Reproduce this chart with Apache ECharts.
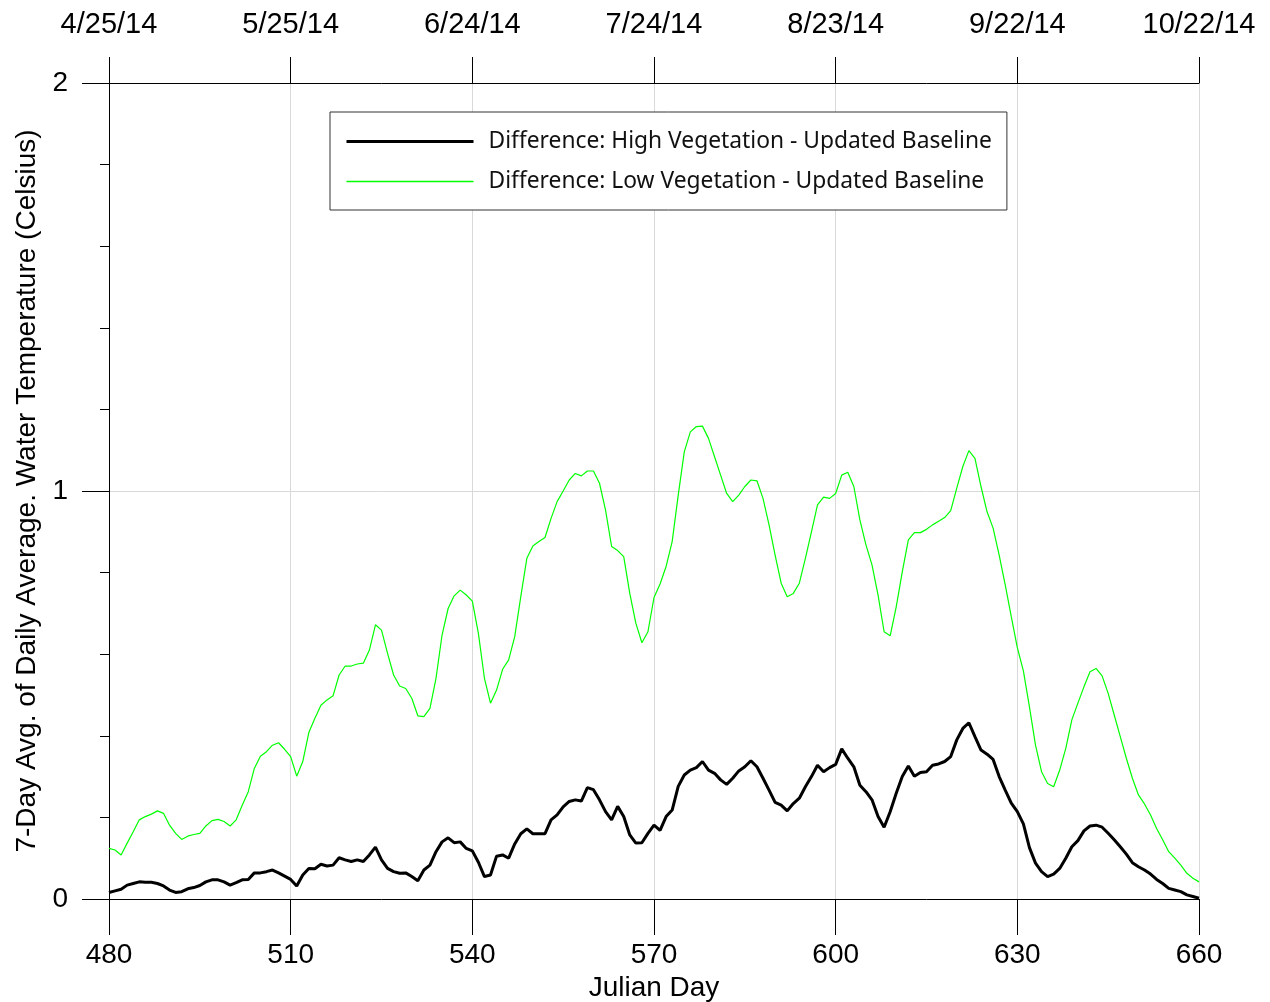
<!DOCTYPE html>
<html>
<head>
<meta charset="utf-8">
<script src="https://cdn.jsdelivr.net/npm/echarts@6/dist/echarts.min.js"></script>
<style>
  html, body { margin: 0; padding: 0; background: #fff; }
  #chart { width: 1270px; height: 1002px; }
</style>
</head>
<body>
<div id="chart"></div>
<script>
// Julian day of first value (one value per day)
const firstDay = 480;
const dayTicks = [480, 510, 540, 570, 600, 630, 660];
const dateLabels = ['4/25/14', '5/25/14', '6/24/14', '7/24/14', '8/23/14', '9/22/14', '10/22/14'];
const seriesNames = ['Difference: High Vegetation - Updated Baseline', 'Difference: Low Vegetation - Updated Baseline'];

const highVeg = [
  0.016, 0.020, 0.024, 0.034, 0.038, 0.042, 0.041, 0.041, 0.038, 0.032,
  0.022, 0.016, 0.018, 0.025, 0.028, 0.033, 0.042, 0.047, 0.047, 0.042,
  0.034, 0.040, 0.047, 0.048, 0.064, 0.064, 0.067, 0.071, 0.064, 0.056,
  0.048, 0.032, 0.059, 0.075, 0.074, 0.085, 0.081, 0.083, 0.101, 0.096,
  0.092, 0.096, 0.092, 0.108, 0.127, 0.096, 0.075, 0.067, 0.063, 0.064,
  0.055, 0.045, 0.071, 0.083, 0.116, 0.140, 0.150, 0.138, 0.140, 0.124,
  0.118, 0.090, 0.055, 0.059, 0.105, 0.108, 0.100, 0.135, 0.160, 0.172,
  0.160, 0.160, 0.160, 0.194, 0.206, 0.226, 0.239, 0.243, 0.240, 0.273,
  0.268, 0.243, 0.214, 0.194, 0.227, 0.202, 0.157, 0.137, 0.138, 0.161,
  0.181, 0.168, 0.202, 0.218, 0.276, 0.304, 0.316, 0.322, 0.337, 0.316,
  0.308, 0.292, 0.281, 0.296, 0.314, 0.324, 0.339, 0.324, 0.296, 0.267,
  0.237, 0.230, 0.216, 0.234, 0.247, 0.275, 0.300, 0.328, 0.312, 0.322,
  0.330, 0.368, 0.345, 0.324, 0.279, 0.263, 0.243, 0.202, 0.176, 0.214,
  0.259, 0.300, 0.326, 0.301, 0.310, 0.312, 0.328, 0.331, 0.337, 0.349,
  0.390, 0.418, 0.432, 0.398, 0.365, 0.355, 0.342, 0.300, 0.267, 0.235,
  0.214, 0.184, 0.126, 0.088, 0.067, 0.055, 0.061, 0.075, 0.100, 0.128,
  0.143, 0.167, 0.179, 0.181, 0.176, 0.161, 0.145, 0.128, 0.110, 0.089,
  0.079, 0.071, 0.061, 0.048, 0.038, 0.026, 0.022, 0.018, 0.010, 0.006,
  0.002
];

const lowVeg = [
  0.124, 0.120, 0.108, 0.137, 0.165, 0.194, 0.202, 0.208, 0.216, 0.210,
  0.181, 0.161, 0.146, 0.154, 0.158, 0.161, 0.179, 0.192, 0.195, 0.190,
  0.179, 0.194, 0.230, 0.263, 0.320, 0.350, 0.361, 0.377, 0.383, 0.367,
  0.349, 0.301, 0.337, 0.408, 0.443, 0.475, 0.488, 0.498, 0.549, 0.571,
  0.571, 0.576, 0.578, 0.610, 0.672, 0.659, 0.602, 0.549, 0.522, 0.516,
  0.492, 0.449, 0.447, 0.467, 0.541, 0.647, 0.712, 0.743, 0.757, 0.745,
  0.730, 0.651, 0.541, 0.480, 0.512, 0.563, 0.586, 0.643, 0.741, 0.835,
  0.865, 0.876, 0.886, 0.933, 0.974, 1.000, 1.027, 1.043, 1.037, 1.049,
  1.049, 1.019, 0.953, 0.864, 0.854, 0.839, 0.749, 0.676, 0.628, 0.655,
  0.739, 0.772, 0.815, 0.876, 0.990, 1.096, 1.145, 1.158, 1.159, 1.129,
  1.084, 1.039, 0.994, 0.974, 0.990, 1.011, 1.027, 1.025, 0.982, 0.917,
  0.843, 0.774, 0.741, 0.749, 0.774, 0.835, 0.900, 0.966, 0.985, 0.982,
  0.994, 1.039, 1.046, 1.011, 0.929, 0.868, 0.819, 0.745, 0.655, 0.645,
  0.716, 0.802, 0.880, 0.898, 0.898, 0.906, 0.917, 0.926, 0.935, 0.952,
  1.007, 1.060, 1.099, 1.080, 1.011, 0.949, 0.909, 0.843, 0.770, 0.692,
  0.616, 0.559, 0.471, 0.377, 0.312, 0.283, 0.275, 0.316, 0.369, 0.439,
  0.480, 0.520, 0.557, 0.565, 0.547, 0.504, 0.451, 0.398, 0.345, 0.296,
  0.255, 0.233, 0.206, 0.173, 0.145, 0.116, 0.100, 0.083, 0.063, 0.051,
  0.042
];

const toPairs = arr => arr.map((v, i) => [firstDay + i, v]);

const FONT = '"Liberation Sans", Arial, sans-serif';
const AXIS = '#000';
const GRID = '#d9d9d9';
const HIGH_COLOR = '#000';
const LOW_COLOR = '#00ff00';

const chart = echarts.init(document.getElementById('chart'), null, { renderer: 'canvas' });
chart.setOption({
  animation: false,
  backgroundColor: '#fff',
  grid: { left: 109, top: 83, width: 1090, height: 816, containLabel: false, outerBoundsMode: 'none' },
  legend: {
    left: 330, top: 112,
    orient: 'vertical',
    backgroundColor: '#fff',
    borderColor: '#333', borderWidth: 1,
    padding: [18, 15, 17, 15],
    itemWidth: 127, itemHeight: 20, itemGap: 17,
    itemStyle: { opacity: 0 },
    textStyle: { fontFamily: '"Noto Sans", "Open Sans", sans-serif', fontSize: 22.8, color: '#111', padding: [0, 0, 0, 10] },
    data: [
      { name: seriesNames[0], lineStyle: { color: HIGH_COLOR, width: 3 } },
      { name: seriesNames[1], lineStyle: { color: LOW_COLOR, width: 1.5 } }
    ]
  },
  xAxis: [
    {
      type: 'value', position: 'bottom', min: dayTicks[0], max: dayTicks[dayTicks.length - 1], interval: 30,
      name: 'Julian Day', nameLocation: 'middle', nameGap: 73,
      nameTextStyle: { fontFamily: FONT, fontSize: 28, color: '#000' },
      axisLine: { show: true, onZero: false, lineStyle: { color: AXIS, width: 1 } },
      axisTick: { show: true, length: 36, lineStyle: { color: AXIS } },
      axisLabel: { fontFamily: FONT, fontSize: 28, color: '#000', margin: 42 },
      splitLine: { show: true, lineStyle: { color: GRID, width: 1 } }
    },
    {
      type: 'value', position: 'top', min: dayTicks[0], max: dayTicks[dayTicks.length - 1], interval: 30,
      axisLine: { show: true, onZero: false, lineStyle: { color: AXIS, width: 1 } },
      axisTick: { show: true, length: 26, lineStyle: { color: AXIS } },
      axisLabel: {
        fontFamily: FONT, fontSize: 29, color: '#000', margin: 44,
        formatter: v => dateLabels[dayTicks.indexOf(v)] || ''
      },
      splitLine: { show: false }
    }
  ],
  yAxis: {
    type: 'value', min: 0, max: 2, interval: 1,
    name: '7-Day Avg. of Daily Average. Water Temperature (Celsius)',
    nameLocation: 'middle', nameGap: 63,
    nameTextStyle: { fontFamily: FONT, fontSize: 28, color: '#000' },
    axisLine: { show: true, onZero: false, lineStyle: { color: AXIS, width: 1 } },
    axisTick: { show: true, length: 27, lineStyle: { color: AXIS } },
    minorTick: { show: true, splitNumber: 5, length: 9, lineStyle: { color: AXIS } },
    axisLabel: { fontFamily: FONT, fontSize: 28, color: '#000', margin: 41 },
    splitLine: { show: true, lineStyle: { color: GRID, width: 1 } }
  },
  series: [
    {
      name: seriesNames[0], type: 'line', xAxisIndex: 0, data: toPairs(highVeg),
      symbol: 'none', smooth: false,
      lineStyle: { color: HIGH_COLOR, width: 3 }, itemStyle: { color: HIGH_COLOR }, z: 3
    },
    {
      name: seriesNames[1], type: 'line', xAxisIndex: 0, data: toPairs(lowVeg),
      symbol: 'none', smooth: false,
      lineStyle: { color: LOW_COLOR, width: 1.2 }, itemStyle: { color: LOW_COLOR }, z: 2
    }
  ]
});
</script>
</body>
</html>
